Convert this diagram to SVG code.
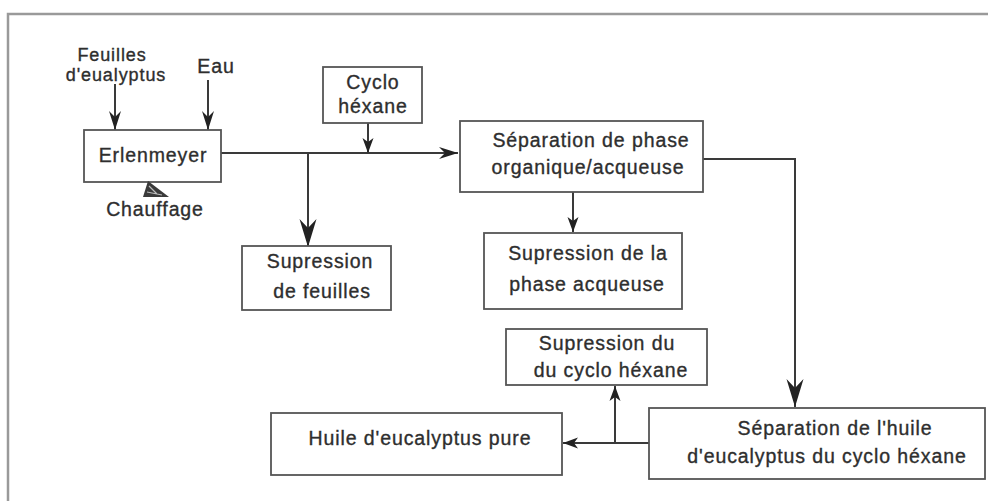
<svg xmlns="http://www.w3.org/2000/svg" width="988" height="501" viewBox="0 0 988 501">
<style>
.bx{fill:#fff;stroke:#555;stroke-width:1.8}
.t{font-family:"Liberation Sans",Arial,sans-serif;font-size:19.5px;letter-spacing:0.9px;fill:#2e2e2e;stroke:#2e2e2e;stroke-width:0.35;text-anchor:middle}
.s{font-size:18px}
.c{fill:none;stroke:#3a3a3a;stroke-width:2}
.frame{fill:none;stroke:#9a9a9a;stroke-width:2.5}
</style>
<defs>
<marker id="as" markerUnits="userSpaceOnUse" markerWidth="16" markerHeight="12" viewBox="-16 -6 16 12" refX="0" refY="0" orient="auto"><path d="M0,0 L-15,-5.5 L-11,0 L-15,5.5 Z" fill="#222"/></marker>
<marker id="am" markerUnits="userSpaceOnUse" markerWidth="20" markerHeight="14" viewBox="-20 -7 20 14" refX="0" refY="0" orient="auto"><path d="M0,0 L-19,-6 L-13,0 L-19,6 Z" fill="#222"/></marker>
<marker id="al" markerUnits="userSpaceOnUse" markerWidth="30" markerHeight="20" viewBox="-30 -10 30 20" refX="0" refY="0" orient="auto"><path d="M0,0 L-28,-8.5 L-19,0 L-28,8.5 Z" fill="#222"/></marker>
</defs>
<path class="frame" d="M988,14 H8 V501"/>
<g id="connectors">
<path class="c" d="M115,84 V130" marker-end="url(#am)"/>
<path class="c" d="M208,80 V130" marker-end="url(#am)"/>
<path class="c" d="M221,153 H458" marker-end="url(#am)"/>
<path class="c" d="M308,153 V247" marker-end="url(#al)"/>
<path class="c" d="M368,123 V153" marker-end="url(#as)"/>
<path class="c" d="M573,192 V232" marker-end="url(#as)"/>
<path class="c" d="M703,159 H795 V407" marker-end="url(#al)"/>
<path class="c" d="M649,443 H563" marker-end="url(#as)"/>
<path class="c" d="M615,443 V386" marker-end="url(#as)"/>
</g>
<g id="inputs">
<text class="t s" x="112" y="61">Feuilles</text>
<text class="t s" x="116" y="81">d'eualyptus</text>
<text class="t" x="216" y="73">Eau</text>
</g>
<g id="erlenmeyer">
<rect class="bx" x="84" y="130" width="137" height="52"/>
<text class="t" x="153" y="162">Erlenmeyer</text>
</g>
<g id="chauffage">
<polygon points="148,181 143,197 169,197" fill="#3a3a3a"/>
<path d="M149,186 L157,194 M147,192 L162,195" stroke="#bbb" stroke-width="1.2" fill="none"/>
<text class="t" x="155" y="216">Chauffage</text>
</g>
<g id="cyclo">
<rect class="bx" x="323" y="67" width="99" height="56"/>
<text class="t" x="373" y="89">Cyclo</text>
<text class="t" x="373" y="113">héxane</text>
</g>
<g id="sep-phase">
<rect class="bx" x="460" y="121" width="243" height="71"/>
<text class="t" x="591" y="147">Séparation de phase</text>
<text class="t" x="588" y="174">organique/acqueuse</text>
</g>
<g id="sup-feuilles">
<rect class="bx" x="242" y="246" width="149" height="64"/>
<text class="t" x="320" y="268">Supression</text>
<text class="t" x="322" y="298">de feuilles</text>
</g>
<g id="sup-phase">
<rect class="bx" x="484" y="233" width="198" height="76"/>
<text class="t" x="588" y="260">Supression de la</text>
<text class="t" x="587" y="291">phase acqueuse</text>
</g>
<g id="sup-cyclo">
<rect class="bx" x="506" y="329" width="201" height="56"/>
<text class="t" x="607" y="350">Supression du</text>
<text class="t" x="611" y="377">du cyclo héxane</text>
</g>
<g id="huile">
<rect class="bx" x="271" y="413" width="291" height="62"/>
<text class="t" x="420" y="445">Huile d'eucalyptus pure</text>
</g>
<g id="sep-huile">
<rect class="bx" x="649" y="408" width="336" height="71"/>
<text class="t" x="835" y="435">Séparation de l'huile</text>
<text class="t" x="827" y="463">d'eucalyptus du cyclo héxane</text>
</g>
</svg>
